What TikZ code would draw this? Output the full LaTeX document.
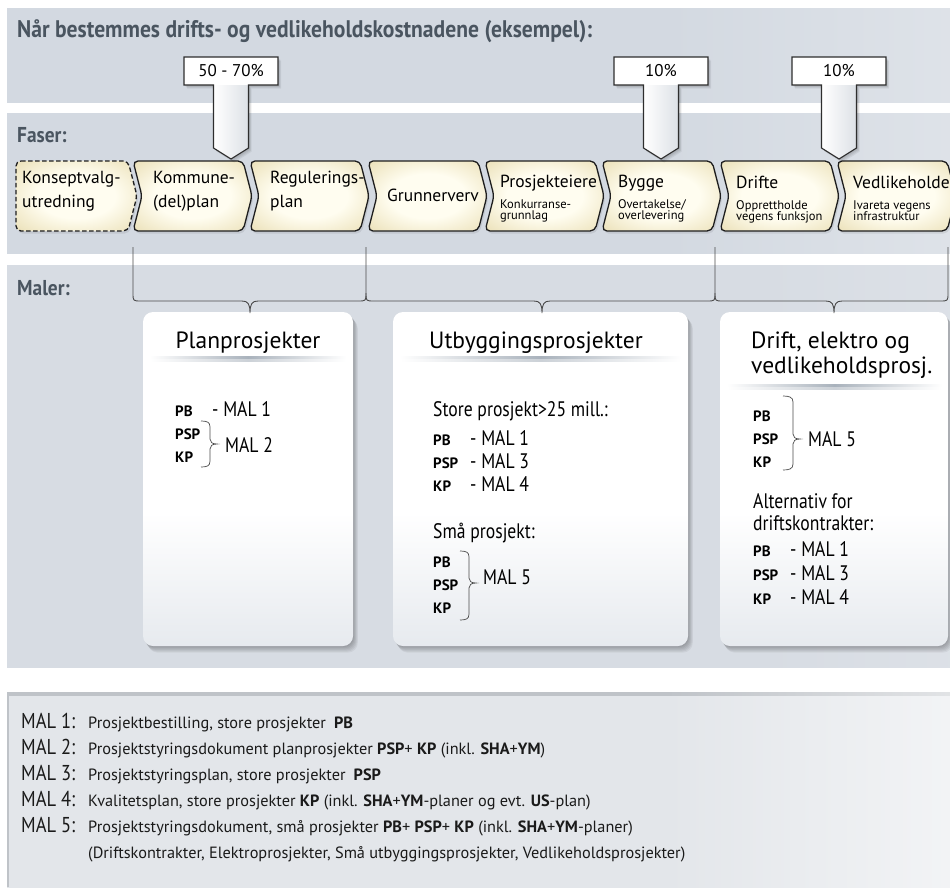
\documentclass[tikz,border=0pt]{standalone}
\usepackage{fontspec}
\setmainfont{PT Sans}
\newfontfamily\condfont[FakeStretch=0.84]{PT Sans}
\newfontfamily\hdrfont[FakeStretch=0.9]{PT Sans}
\newfontfamily\legmalfont[FakeStretch=0.86]{PT Sans}
\definecolor{pnl}{HTML}{D3D9E1}
\definecolor{pnlR}{HTML}{F0F2F5}
\definecolor{mpnl}{HTML}{D7DCE3}
\definecolor{mpnlR}{HTML}{E9ECF0}
\definecolor{hdrc}{HTML}{4A5560}
\definecolor{chin}{HTML}{FFFDF0}
\definecolor{chout}{HTML}{DCCB8E}
\definecolor{chevline}{HTML}{1E1E1E}
\definecolor{bracecol}{HTML}{4A4A4A}
\definecolor{boxbot}{HTML}{C8D0DA}
\definecolor{legc}{HTML}{E3E6EA}
\definecolor{legline}{HTML}{BFC3C8}
\definecolor{ulc}{HTML}{A9B2BC}
\definecolor{stemc}{HTML}{DDE1E6}
\definecolor{callc}{HTML}{2E2E2E}
\definecolor{legtext}{HTML}{1A1A1A}
\pgfdeclarehorizontalshading{topfade}{100bp}{color(0bp)=(pnl); color(60bp)=(pnl); color(100bp)=(pnlR)}
\pgfdeclarehorizontalshading{malfade}{100bp}{color(0bp)=(mpnl); color(65bp)=(mpnl); color(100bp)=(mpnlR)}
\pgfdeclarehorizontalshading{legfade}{100bp}{color(0bp)=(legc); color(60bp)=(legc); color(88bp)=(white); color(100bp)=(white)}
\pgfdeclarehorizontalshading{leglinefade}{100bp}{color(0bp)=(legline); color(60bp)=(legline); color(88bp)=(white); color(100bp)=(white)}
\pgfdeclareverticalshading{boxshade}{100bp}{color(0bp)=(boxbot); color(45bp)=(white); color(100bp)=(white)}
\pgfdeclareradialshading{chevglow}{\pgfpoint{0bp}{0bp}}{color(0bp)=(chin); color(16bp)=(chin); color(50bp)=(chout); color(72bp)=(chout)}
\newcommand\lblfont{\normalfont\bfseries\fontsize{15}{18}\selectfont}
\newcommand\Lb[1]{\makebox[37pt][l]{\lblfont #1}}
\newcommand\B[1]{\textbf{#1}}
\newcommand\callout[3]{%
 \begin{scope}[shift={(#2,0)}]
  \foreach \k in {1,2,3,4} {\fill[black,opacity=.06,shift={(\k*0.8,\k*0.9)}] (0,57) -- (94,57) -- (94,85) -- (64.5,85) -- (64.5,148) -- (47,159) -- (29.5,148) -- (29.5,85) -- (0,85) -- cycle;}
  \fill[white] (0,57) -- (94,57) -- (94,85) -- (64.5,85) -- (64.5,148) -- (47,159) -- (29.5,148) -- (29.5,85) -- (0,85) -- cycle;
  \shade[left color=white, right color=stemc] (29.5,85) -- (64.5,85) -- (64.5,148) -- (47,159) -- (29.5,148) -- cycle;
  \draw[callline] (0,57) -- (94,57) -- (94,85) -- (64.5,85) -- (64.5,148) -- (47,159) -- (29.5,148) -- (29.5,85) -- (0,85) -- cycle;
  \node[pct] (#1) at (47,71) {#3};
 \end{scope}}
\begin{document}
\begin{tikzpicture}[x=1pt,y=-1pt,
  hdr/.style={anchor=base west, inner sep=0pt, text=hdrc, font=\hdrfont\bfseries\fontsize{24}{28}\selectfont},
  sect/.style={anchor=base west, inner sep=0pt, text=hdrc, font=\hdrfont\bfseries\fontsize{21.5}{24}\selectfont},
  chtitle/.style={anchor=base west, inner sep=0pt, font=\fontsize{17.5}{19}\selectfont},
  chsub/.style={anchor=base west, inner sep=0pt, font=\fontsize{12.5}{14}\selectfont},
  pct/.style={anchor=center, inner sep=0pt, font=\fontsize{17}{20}\selectfont},
  boxtitle/.style={anchor=base, inner sep=0pt, font=\fontsize{23.5}{26}\selectfont},
  boxtitlel/.style={anchor=base west, inner sep=0pt, font=\fontsize{23.5}{26}\selectfont},
  body/.style={anchor=base west, inner sep=0pt, font=\condfont\fontsize{21}{25}\selectfont},
  lbl/.style={anchor=base west, inner sep=0pt, font=\lblfont},
  leg/.style={anchor=base west, inner sep=0pt, text=legtext, font=\fontsize{16.3}{19}\selectfont},
  legmal/.style={anchor=base west, inner sep=0pt, text=legtext, font=\legmalfont\fontsize{21.5}{24}\selectfont},
  callline/.style={draw=callc, line width=1.1pt},
  chev/.style={shading=chevglow, draw=chevline, line width=1.3pt, rounded corners=5pt},
  bracestyle/.style={draw=bracecol, line width=0.9pt},
  smallbrace/.style={draw=bracecol, line width=0.7pt}
]
\useasboundingbox (0,0) rectangle (950,887);
\clip (0,0) rectangle (950,887);
\fill[white] (0,0) rectangle (950,887);
% panels
\shade[shading=topfade] (7,8) rectangle (950,102);
\shade[shading=topfade] (7,113) rectangle (950,253);
\shade[shading=malfade] (7,265) rectangle (950,667);
\shade[shading=legfade] (7,694) rectangle (950,887);
\shade[shading=leglinefade] (7,692.5) rectangle (950,695);
\fill[legline] (7,692.5) rectangle (9,887);
% headings
\node[hdr] (head) at (17,37) {Når bestemmes drifts- og vedlikeholdskostnadene (eksempel):};
\node[sect] (faser) at (17,142) {Faser:};
\node[sect] (maler) at (17,295) {Maler:};
% chevrons
\fill[black,opacity=.08,rounded corners=5pt,shift={(1.5,2.5)}] (16,161) -- ++(112,0) -- ++(9,35) -- ++(-9,35) -- ++(-112,0) -- cycle;
\shadedraw[chev, dash pattern=on 4.5pt off 2.5pt] (16,161) -- ++(112,0) -- ++(9,35) -- ++(-9,35) -- ++(-112,0) -- cycle;
\foreach \x in {133,250,368,485,602,720,837} {
  \fill[black,opacity=.08,rounded corners=5pt,shift={(1.5,2.5)}] (\x,161) -- ++(110,0) -- ++(9,35) -- ++(-9,35) -- ++(-110,0) -- ++(9,-35) -- cycle;
  \shadedraw[chev] (\x,161) -- ++(110,0) -- ++(9,35) -- ++(-9,35) -- ++(-110,0) -- ++(9,-35) -- cycle;
}
\node[chtitle] (k1a) at (22,183) {Konseptvalg-};
\node[chtitle] (k1b) at (22,207) {utredning};
\node[chtitle] (k2a) at (153,183) {Kommune-};
\node[chtitle] (k2b) at (153,207) {(del)plan};
\node[chtitle] (k3a) at (270,183) {Regulerings-};
\node[chtitle] (k3b) at (270,207) {plan};
\node[chtitle, anchor=base] (k4) at (433,201) {Grunnerverv};
\node[chtitle] (k5a) at (500,187) {Prosjekteiere};
\node[chsub] (k5b) at (500,208) {Konkurranse-};
\node[chsub] (k5c) at (500,219) {grunnlag};
\node[chtitle] (k6a) at (618,187) {Bygge};
\node[chsub] (k6b) at (618,208) {Overtakelse/};
\node[chsub] (k6c) at (618,219) {overlevering};
\node[chtitle] (k7a) at (736,188) {Drifte};
\node[chsub] (k7b) at (736,209) {Opprettholde};
\node[chsub] (k7c) at (736,220) {vegens funksjon};
\node[chtitle] (k8a) at (853,188) {Vedlikeholde};
\node[chsub] (k8b) at (853,209) {Ivareta vegens};
\node[chsub] (k8c) at (853,220) {infrastruktur};
% callouts
\callout{c1}{184}{50 - 70\%}
\callout{c2}{614}{10\%}
\callout{c3}{792}{10\%}
% boxes
\foreach \a/\b in {143/353,393/688,720/948} {
  \foreach \k in {1,...,6} {\fill[black,opacity=.05,rounded corners=10pt,shift={(\k*0.8,\k*1.1)}] (\a,312) rectangle (\b,646);}
  \shade[shading=boxshade,rounded corners=10pt] (\a,312) rectangle (\b,646);
}
% underlines
\shade[left color=white, right color=white, middle color=ulc] (150,356.5) rectangle (346,359);
\shade[left color=white, right color=white, middle color=ulc!60] (150,359) rectangle (346,361);
\shade[left color=white, right color=white, middle color=ulc] (400,356.5) rectangle (681,359);
\shade[left color=white, right color=white, middle color=ulc!60] (400,359) rectangle (681,361);
\shade[left color=white, right color=white, middle color=ulc] (727,384.5) rectangle (942,387);
\shade[left color=white, right color=white, middle color=ulc!60] (727,387) rectangle (942,389);
% box titles
\node[boxtitle] (t1) at (248,348) {Planprosjekter};
\node[boxtitle] (t2) at (536,348) {Utbyggingsprosjekter};
\node[boxtitlel] (t3a) at (751,348) {Drift, elektro og};
\node[boxtitlel] (t3b) at (751,373) {vedlikeholdsprosj.};
% box 1
\node[body] (b1r1) at (175,416) {\Lb{PB}- MAL 1};
\node[lbl] (b1r2) at (175,439) {PSP};
\node[lbl] (b1r3) at (175,462) {KP};
\node[body] (b1m) at (225,452) {MAL 2};
\draw[smallbrace] (201,421) .. controls (207,421) and (210,422) .. (210,427) -- (210,439) .. controls (210,442) and (212,444) .. (217,444) .. controls (212,444) and (210,446) .. (210,449) -- (210,461) .. controls (210,466) and (207,467) .. (201,467);
% box 2
\node[body] (b2s) at (433,416) {Store prosjekt>25 mill.:};
\node[body] (b2r1) at (433,445) {\Lb{PB}- MAL 1};
\node[body] (b2r2) at (433,468) {\Lb{PSP}- MAL 3};
\node[body] (b2r3) at (433,491) {\Lb{KP}- MAL 4};
\node[body] (b2sm) at (433,538) {Små prosjekt:};
\node[lbl] (b2p1) at (433,567) {PB};
\node[lbl] (b2p2) at (433,590) {PSP};
\node[lbl] (b2p3) at (433,613) {KP};
\node[body] (b2m) at (483,584) {MAL 5};
\draw[smallbrace] (460,551) .. controls (466,551) and (469,552) .. (469,557) -- (469,578) .. controls (469,581) and (471,583) .. (476,583) .. controls (471,583) and (469,585) .. (469,588) -- (469,614) .. controls (469,619) and (466,620) .. (460,620);
% box 3
\node[lbl] (b3p1) at (753,421) {PB};
\node[lbl] (b3p2) at (753,444) {PSP};
\node[lbl] (b3p3) at (753,467) {KP};
\node[body] (b3m) at (808,446) {MAL 5};
\draw[smallbrace] (783,396) .. controls (789,396) and (793,397) .. (793,402) -- (793,434) .. controls (793,437) and (795,439) .. (800,439) .. controls (795,439) and (793,441) .. (793,444) -- (793,464) .. controls (793,469) and (789,470) .. (783,470);
\node[body] (b3a) at (753,508) {Alternativ for};
\node[body] (b3b) at (753,530) {driftskontrakter:};
\node[body] (b3r1) at (753,556) {\Lb{PB}- MAL 1};
\node[body] (b3r2) at (753,580) {\Lb{PSP}- MAL 3};
\node[body] (b3r3) at (753,604) {\Lb{KP}- MAL 4};
% maler braces
\coordinate (v1) at (133,247);
\coordinate (v2) at (366,247);
\coordinate (v3) at (715,247);
\coordinate (v4) at (948,247);
\draw[bracestyle] (v1) -- (133,293) .. controls (133,301) .. (141,301) -- (242,301) .. controls (248,301) and (250,304) .. (250,313) .. controls (250,304) and (252,301) .. (258,301) -- (358,301) .. controls (366,301) .. (366,293) -- (v2);
\draw[bracestyle] (366,293) .. controls (366,301) .. (374,301) -- (534,301) .. controls (540,301) and (542,304) .. (542,313) .. controls (542,304) and (544,301) .. (550,301) -- (707,301) .. controls (715,301) .. (715,293) -- (v3);
\draw[bracestyle] (715,293) .. controls (715,301) .. (723,301) -- (826,301) .. controls (832,301) and (834,304) .. (834,313) .. controls (834,304) and (836,301) .. (842,301) -- (940,301) .. controls (948,301) .. (948,293) -- (v4);
% legend
\node[legmal] (m1) at (21,728) {MAL 1:};
\node[leg] (d1) at (88,728) {Prosjektbestilling, store prosjekter\enspace\B{PB}};
\node[legmal] (m2) at (21,754) {MAL 2:};
\node[leg] (d2) at (88,754) {Prosjektstyringsdokument planprosjekter \B{PSP}+ \B{KP} (inkl. \B{SHA}+\B{YM})};
\node[legmal] (m3) at (21,780) {MAL 3:};
\node[leg] (d3) at (88,780) {Prosjektstyringsplan, store prosjekter\enspace\B{PSP}};
\node[legmal] (m4) at (21,806) {MAL 4:};
\node[leg] (d4) at (88,806) {Kvalitetsplan, store prosjekter \B{KP} (inkl. \B{SHA}+\B{YM}-planer og evt. \B{US}-plan)};
\node[legmal] (m5) at (21,832) {MAL 5:};
\node[leg] (d5) at (88,832) {Prosjektstyringsdokument, små prosjekter \B{PB}+ \B{PSP}+ \B{KP} (inkl. \B{SHA}+\B{YM}-planer)};
\node[leg] (d6) at (88,858) {(Driftskontrakter, Elektroprosjekter, Små utbyggingsprosjekter, Vedlikeholdsprosjekter)};
\end{tikzpicture}
\end{document}
